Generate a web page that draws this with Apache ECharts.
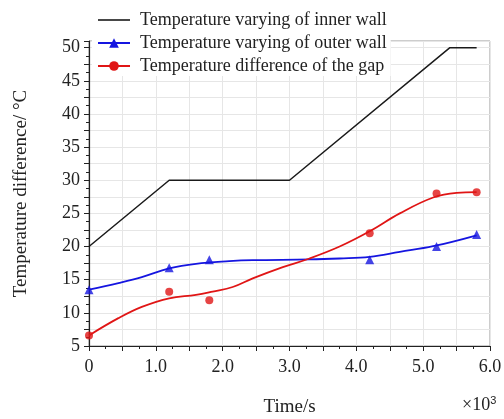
<!DOCTYPE html>
<html>
<head>
    <meta charset="utf-8">
    <title>Temperature difference</title>
    <script src="https://cdn.jsdelivr.net/npm/echarts@6/dist/echarts.min.js"></script>
    <style>
        body { margin: 0; background: #fff; }
    </style>
</head>
<body>
    <div id="main" style="width: 504px;height:419px;"></div>
    <script type="text/javascript">
    // time in 10^3 s
    var innerWall = [[0, 20], [1.2, 30], [3.0, 30], [5.4, 50], [5.8, 50]];

    // measured points
    var outerPts = [[0, 13.5], [1.2, 16.8], [1.8, 18.0], [4.2, 18.0], [5.2, 20.0], [5.8, 21.8]];
    var gapPts = [[0, 6.6], [1.2, 13.2], [1.8, 11.9], [4.2, 22.0], [5.2, 28.0], [5.8, 28.2]];

    // fitted curves
    var outerFit = [[0, 13.5], [0.44, 14.5], [0.79, 15.4], [1.2, 16.7], [1.6, 17.4], [2.1, 17.8],
                    [2.45, 17.95], [3.3, 18.05], [3.75, 18.2], [4.2, 18.45], [4.65, 19.2],
                    [5.15, 20.05], [5.8, 21.7]];
    var gapFit = [[0, 6.6], [0.44, 9.2], [0.79, 10.9], [1.2, 12.2], [1.6, 12.7], [1.85, 13.2],
                  [2.15, 13.9], [2.45, 15.2], [2.9, 16.9], [3.3, 18.2], [3.75, 20.0],
                  [4.2, 22.3], [4.65, 25.0], [5.15, 27.4], [5.5, 28.1], [5.8, 28.2]];

    var names = ['Temperature varying of inner wall', 'Temperature varying of outer wall',
                 'Temperature difference of the gap'];

    var myChart = echarts.init(document.getElementById('main'));
    var font = '"Liberation Serif", "DejaVu Serif", serif';

    var option = {
        animation: false,
        textStyle: { fontFamily: font },
        grid: {
            left: 89, right: 14, top: 41, bottom: 73,
            outerBoundsMode: 'none', containLabel: false,
            show: true, borderColor: '#9a9a9a', borderWidth: 1
        },
        legend: {
            orient: 'vertical',
            left: 92, top: 10,
            backgroundColor: '#fff',
            padding: [1, 4, 1, 5],
            itemWidth: 32, itemHeight: 12, itemGap: 5,
            textStyle: { fontFamily: font, fontSize: 18, color: '#222', padding: [0, 0, 0, 5] },
            data: [
                { name: names[0], icon: 'path://M0,0 H100 V5 H0 Z' },
                { name: names[1] },
                { name: names[2] }
            ]
        },
        xAxis: {
            type: 'value', min: 0, max: 6, interval: 0.5,
            name: 'Time/s', nameLocation: 'middle', nameGap: 52,
            nameTextStyle: { fontFamily: font, fontSize: 19, color: '#222' },
            axisLine: { lineStyle: { color: '#222', width: 1.2 } },
            axisTick: { length: 5, lineStyle: { color: '#222' } },
            minorTick: { show: true, splitNumber: 2, length: 3, lineStyle: { color: '#222' } },
            axisLabel: {
                fontFamily: font, fontSize: 18, color: '#222', margin: 12,
                formatter: function (v) {
                    if (v === 0) return '0';
                    return (Math.abs(v - Math.round(v)) < 1e-6) ? v.toFixed(1) : '';
                }
            },
            splitLine: { show: true, lineStyle: { color: '#e6e6e6' } }
        },
        yAxis: {
            type: 'value', min: 5, max: 51, interval: 2.5,
            name: 'Temperature difference/ °C', nameLocation: 'middle', nameGap: 58,
            nameTextStyle: { fontFamily: font, fontSize: 19, color: '#222' },
            axisLine: { show: true, lineStyle: { color: '#222', width: 1.2 } },
            axisTick: { show: true, length: 5, lineStyle: { color: '#222' } },
            minorTick: { show: true, splitNumber: 2, length: 3, lineStyle: { color: '#222' } },
            axisLabel: {
                fontFamily: font, fontSize: 18, color: '#222', margin: 9,
                formatter: function (v) { return (v % 5 === 0) ? String(v) : ''; }
            },
            splitLine: { show: true, lineStyle: { color: '#e6e6e6' } }
        },
        graphic: [{
            type: 'text', left: 462, top: 395,
            style: {
                text: '×10{s|3}', fill: '#222',
                font: '18px ' + font,
                rich: { s: { fontSize: 11, verticalAlign: 'top', padding: [0, 0, 10, 0] } }
            }
        }],
        series: [
            {
                name: names[0], type: 'line', data: innerWall,
                symbol: 'none', color: '#1a1a1a',
                lineStyle: { color: '#1a1a1a', width: 1.5 }
            },
            {
                name: names[1], type: 'line', data: outerFit, smooth: 0.4,
                symbol: 'triangle', symbolSize: 9, showSymbol: false, color: '#1515e0',
                lineStyle: { color: '#1515e0', width: 1.8 }
            },
            {
                name: names[1], type: 'scatter', data: outerPts,
                symbol: 'triangle', symbolSize: 9, color: '#1515e0'
            },
            {
                name: names[2], type: 'line', data: gapFit, smooth: 0.4,
                symbol: 'circle', symbolSize: 7, showSymbol: false, color: '#e01515',
                lineStyle: { color: '#e01515', width: 1.8 }
            },
            {
                name: names[2], type: 'scatter', data: gapPts,
                symbol: 'circle', symbolSize: 8, color: '#e01515'
            }
        ]
    };
    myChart.setOption(option);
    </script>
</body>
</html>
